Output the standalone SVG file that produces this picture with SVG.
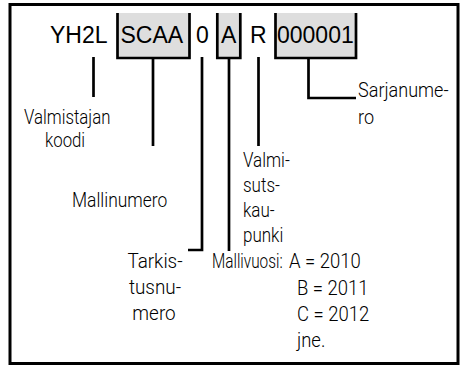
<svg xmlns="http://www.w3.org/2000/svg" width="461" height="366" viewBox="0 0 461 366">
<style>
.code{font-family:"Liberation Sans",Arial,sans-serif;font-size:23px;fill:#000}
.lbl{font-family:Roboto,"Liberation Sans",Arial,sans-serif;font-weight:300;font-size:21px;fill:#000}
.mid{text-anchor:middle}
.box{fill:#dedede;stroke:none}
.br{fill:none;stroke:#000;stroke-width:2.7}
.ln{fill:none;stroke:#000;stroke-width:2.7}
</style>
<rect x="0" y="0" width="461" height="366" fill="#fff"/>
<rect x="10" y="4.5" width="448" height="359" fill="#fff" stroke="#000" stroke-width="3"/>
<g id="code">
  <rect class="box" x="118" y="13" width="71" height="44"/>
  <rect class="box" x="217" y="13" width="23" height="44"/>
  <rect class="box" x="276" y="13" width="80" height="44"/>
  <path class="br" d="M117.5,13 V58 H189.5 V13"/>
  <path class="br" d="M217.3,13 V58 H240.3 V13"/>
  <path class="br" d="M275.5,13 V58 H356 V13"/>
  <text class="code" x="50" y="43">YH2L</text>
  <text class="code" x="120.5" y="43">SCAA</text>
  <text class="code" x="196" y="43">0</text>
  <text class="code" x="221" y="43">A</text>
  <text class="code" x="250" y="43">R</text>
  <text class="code" x="277" y="43">000001</text>
</g>
<g id="connectors">
  <path class="ln" d="M93.5,57 V97"/>
  <path class="ln" d="M153,58 V146"/>
  <path class="ln" d="M202,57 V250 H188"/>
  <path class="ln" d="M229,58 V251"/>
  <path class="ln" d="M258.5,57 V146"/>
  <path class="ln" d="M308.5,58 V98 H356"/>
</g>
<g id="valmistajan">
  <text class="lbl" transform="translate(24,124) scale(0.8,1)">Valmistajan</text>
  <text class="lbl" transform="translate(45,147) scale(0.8,1)">koodi</text>
</g>
<g id="mallinumero">
  <text class="lbl" transform="translate(72,207) scale(0.83,1)">Mallinumero</text>
</g>
<g id="tarkistusnumero">
  <text class="lbl mid" transform="translate(155,268) scale(0.9,1)">Tarkis-</text>
  <text class="lbl mid" transform="translate(155,294) scale(0.9,1)">tusnu-</text>
  <text class="lbl mid" transform="translate(154,320) scale(0.9,1)">mero</text>
</g>
<g id="valmistuskaupunki">
  <text class="lbl" transform="translate(243,167) scale(0.81,1)">Valmi-</text>
  <text class="lbl" transform="translate(243,192) scale(0.81,1)">suts-</text>
  <text class="lbl" transform="translate(243,217) scale(0.81,1)">kau-</text>
  <text class="lbl" transform="translate(243,242) scale(0.81,1)">punki</text>
</g>
<g id="mallivuosi">
  <text class="lbl" transform="translate(212,268) scale(0.73,1)">Mallivuosi:</text>
  <text class="lbl" transform="translate(289,268) scale(0.88,1)">A = 2010</text>
  <text class="lbl" transform="translate(297,294.5) scale(0.88,1)">B = 2011</text>
  <text class="lbl" transform="translate(297,321) scale(0.88,1)">C = 2012</text>
  <text class="lbl" transform="translate(297,347) scale(0.88,1)">jne.</text>
</g>
<g id="sarjanumero">
  <text class="lbl" transform="translate(358,97) scale(0.86,1)">Sarjanume-</text>
  <text class="lbl" transform="translate(358,124) scale(0.86,1)">ro</text>
</g>
</svg>
